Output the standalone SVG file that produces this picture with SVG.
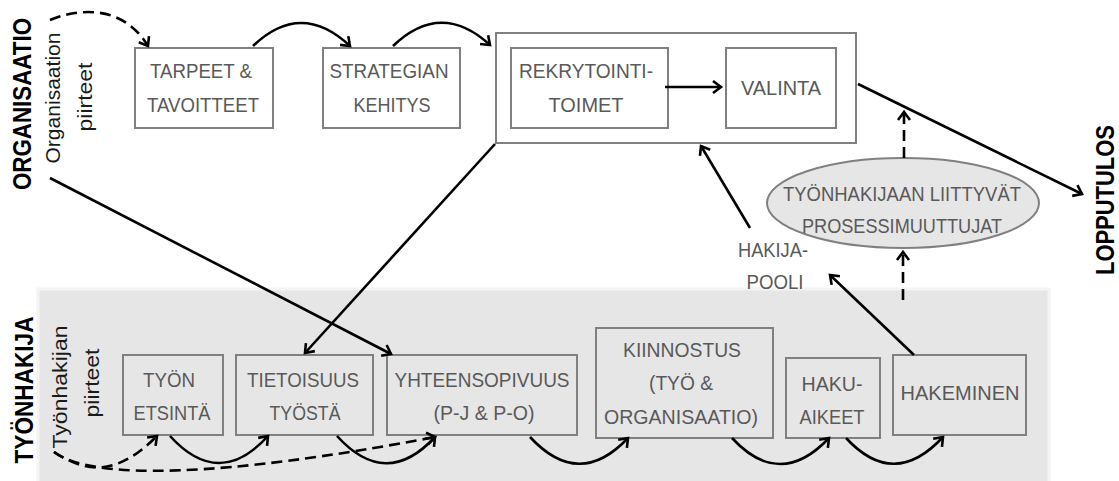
<svg xmlns="http://www.w3.org/2000/svg" width="1119" height="481" viewBox="0 0 1119 481">
<style>
.box{fill:#ffffff;stroke:#808080;stroke-width:2}
.lbox{fill:none;stroke:#808080;stroke-width:2}
.t{font-family:"Liberation Sans",Arial,sans-serif;font-size:21px;fill:#595959;text-anchor:middle}
.side{font-family:"Liberation Sans",Arial,sans-serif;font-size:21px;fill:#1a1a1a;text-anchor:middle}
.big{font-family:"Liberation Sans",Arial,sans-serif;font-size:25px;font-weight:bold;fill:#000;text-anchor:middle}
.c{fill:none;stroke:#000;stroke-width:2.6}
.d{fill:none;stroke:#000;stroke-width:2.6;stroke-dasharray:11 6}
</style>
<defs>
<marker id="ah" markerUnits="userSpaceOnUse" markerWidth="16" markerHeight="16" refX="10" refY="7" orient="auto" viewBox="0 0 16 14">
<path d="M2,1 L10,7 L2,13" fill="none" stroke="#000" stroke-width="2.6"/>
</marker>
</defs>

<rect x="38" y="289" width="1011" height="194" fill="#e7e6e6" stroke="#f4f4f4" stroke-width="3"/>

<g id="labels">
<text class="big" transform="translate(31,104) rotate(-90)" textLength="172" lengthAdjust="spacingAndGlyphs">ORGANISAATIO</text>
<text class="big" transform="translate(33,390) rotate(-90)" textLength="147" lengthAdjust="spacingAndGlyphs">TYÖNHAKIJA</text>
<text class="big" transform="translate(1114,200) rotate(-90)" textLength="150" lengthAdjust="spacingAndGlyphs">LOPPUTULOS</text>
<text class="side" transform="translate(60,98) rotate(-90)" textLength="131" lengthAdjust="spacingAndGlyphs">Organisaation</text>
<text class="side" transform="translate(92,97) rotate(-90)" textLength="69" lengthAdjust="spacingAndGlyphs">piirteet</text>
<text class="side" transform="translate(67,387) rotate(-90)" textLength="123" lengthAdjust="spacingAndGlyphs">Työnhakijan</text>
<text class="side" transform="translate(99,383) rotate(-90)" textLength="69" lengthAdjust="spacingAndGlyphs">piirteet</text>
</g>

<g id="tarpeet">
<rect class="box" x="135" y="48" width="138" height="80"/>
<text class="t" x="201" y="78" textLength="102" lengthAdjust="spacingAndGlyphs">TARPEET &amp;</text>
<text class="t" x="203" y="112" textLength="112" lengthAdjust="spacingAndGlyphs">TAVOITTEET</text>
</g>
<g id="strategian">
<rect class="box" x="323" y="48" width="137" height="80"/>
<text class="t" x="389" y="78" textLength="119" lengthAdjust="spacingAndGlyphs">STRATEGIAN</text>
<text class="t" x="392" y="112" textLength="77" lengthAdjust="spacingAndGlyphs">KEHITYS</text>
</g>
<g id="rekry-ryhma">
<rect class="box" x="496" y="33" width="360" height="110"/>
</g>
<g id="rekrytointi">
<rect class="box" x="511" y="48" width="157" height="80"/>
<text class="t" x="586" y="78" textLength="134" lengthAdjust="spacingAndGlyphs">REKRYTOINTI-</text>
<text class="t" x="586" y="112" textLength="75" lengthAdjust="spacingAndGlyphs">TOIMET</text>
</g>
<g id="valinta">
<rect class="box" x="726" y="48" width="110" height="80"/>
<text class="t" x="781" y="95" textLength="80" lengthAdjust="spacingAndGlyphs">VALINTA</text>
</g>
<g id="prosessimuuttujat">
<ellipse cx="903" cy="203" rx="136" ry="45" fill="#e7e6e6" stroke="#808080" stroke-width="2"/>
<text class="t" x="902" y="201" textLength="238" lengthAdjust="spacingAndGlyphs">TYÖNHAKIJAAN LIITTYVÄT</text>
<text class="t" x="902" y="233" textLength="200" lengthAdjust="spacingAndGlyphs">PROSESSIMUUTTUJAT</text>
</g>
<g id="hakijapooli">
<text class="t" x="773" y="257" textLength="70" lengthAdjust="spacingAndGlyphs">HAKIJA-</text>
<text class="t" x="775" y="289" textLength="57" lengthAdjust="spacingAndGlyphs">POOLI</text>
</g>
<g id="tyon-etsinta">
<rect class="lbox" x="123" y="355" width="100" height="80"/>
<text class="t" x="169" y="387" textLength="52" lengthAdjust="spacingAndGlyphs">TYÖN</text>
<text class="t" x="172" y="420" textLength="77" lengthAdjust="spacingAndGlyphs">ETSINTÄ</text>
</g>
<g id="tietoisuus">
<rect class="lbox" x="236" y="355" width="137" height="80"/>
<text class="t" x="303" y="387" textLength="112" lengthAdjust="spacingAndGlyphs">TIETOISUUS</text>
<text class="t" x="305" y="420" textLength="71" lengthAdjust="spacingAndGlyphs">TYÖSTÄ</text>
</g>
<g id="yhteensopivuus">
<rect class="lbox" x="387" y="355" width="190" height="80"/>
<text class="t" x="482" y="387" textLength="175" lengthAdjust="spacingAndGlyphs">YHTEENSOPIVUUS</text>
<text class="t" x="484" y="420" textLength="101" lengthAdjust="spacingAndGlyphs">(P-J &amp; P-O)</text>
</g>
<g id="kiinnostus">
<rect class="lbox" x="596" y="328" width="177" height="110"/>
<text class="t" x="682" y="357" textLength="118" lengthAdjust="spacingAndGlyphs">KIINNOSTUS</text>
<text class="t" x="681" y="390" textLength="64" lengthAdjust="spacingAndGlyphs">(TYÖ &amp;</text>
<text class="t" x="681" y="424" textLength="154" lengthAdjust="spacingAndGlyphs">ORGANISAATIO)</text>
</g>
<g id="hakuaikeet">
<rect class="lbox" x="786" y="358" width="94" height="80"/>
<text class="t" x="832" y="391" textLength="61" lengthAdjust="spacingAndGlyphs">HAKU-</text>
<text class="t" x="832" y="424" textLength="65" lengthAdjust="spacingAndGlyphs">AIKEET</text>
</g>
<g id="hakeminen">
<rect class="lbox" x="893" y="355" width="133" height="80"/>
<text class="t" x="960" y="400" textLength="119" lengthAdjust="spacingAndGlyphs">HAKEMINEN</text>
</g>

<g id="connectors">
<path class="d" d="M50,20 C85,6 125,8 148,46" marker-end="url(#ah)"/>
<path class="c" d="M253,46 Q301,0 350,46" marker-end="url(#ah)"/>
<path class="c" d="M393,46 Q441,0 490,45" marker-end="url(#ah)"/>
<path class="c" d="M665,87 L721,87" marker-end="url(#ah)"/>
<path class="c" d="M858,84 L1082,194" marker-end="url(#ah)"/>
<path class="d" d="M904,158 L904,112" marker-end="url(#ah)"/>
<path class="d" d="M903,300 L903,252" marker-end="url(#ah)"/>
<path class="c" d="M750,228 L701,146" marker-end="url(#ah)"/>
<path class="c" d="M914,355 L830,275" marker-end="url(#ah)"/>
<path class="c" d="M50,178 L391,354" marker-end="url(#ah)"/>
<path class="c" d="M495,144 L305,353" marker-end="url(#ah)"/>
<path class="c" d="M170,436 Q219,490 268,436" marker-end="url(#ah)"/>
<path class="c" d="M337,436 Q386,490 435,437" marker-end="url(#ah)"/>
<path class="c" d="M530,437 Q579,490 628,438" marker-end="url(#ah)"/>
<path class="c" d="M732,438 Q780,490 829,438" marker-end="url(#ah)"/>
<path class="c" d="M846,438 Q894,490 943,437" marker-end="url(#ah)"/>
<path class="d" d="M54,452 C85,472 115,478 157,436" marker-end="url(#ah)"/>
<path class="d" d="M54,452 C90,480 220,478 435,437" marker-end="url(#ah)"/>
</g>
</svg>
